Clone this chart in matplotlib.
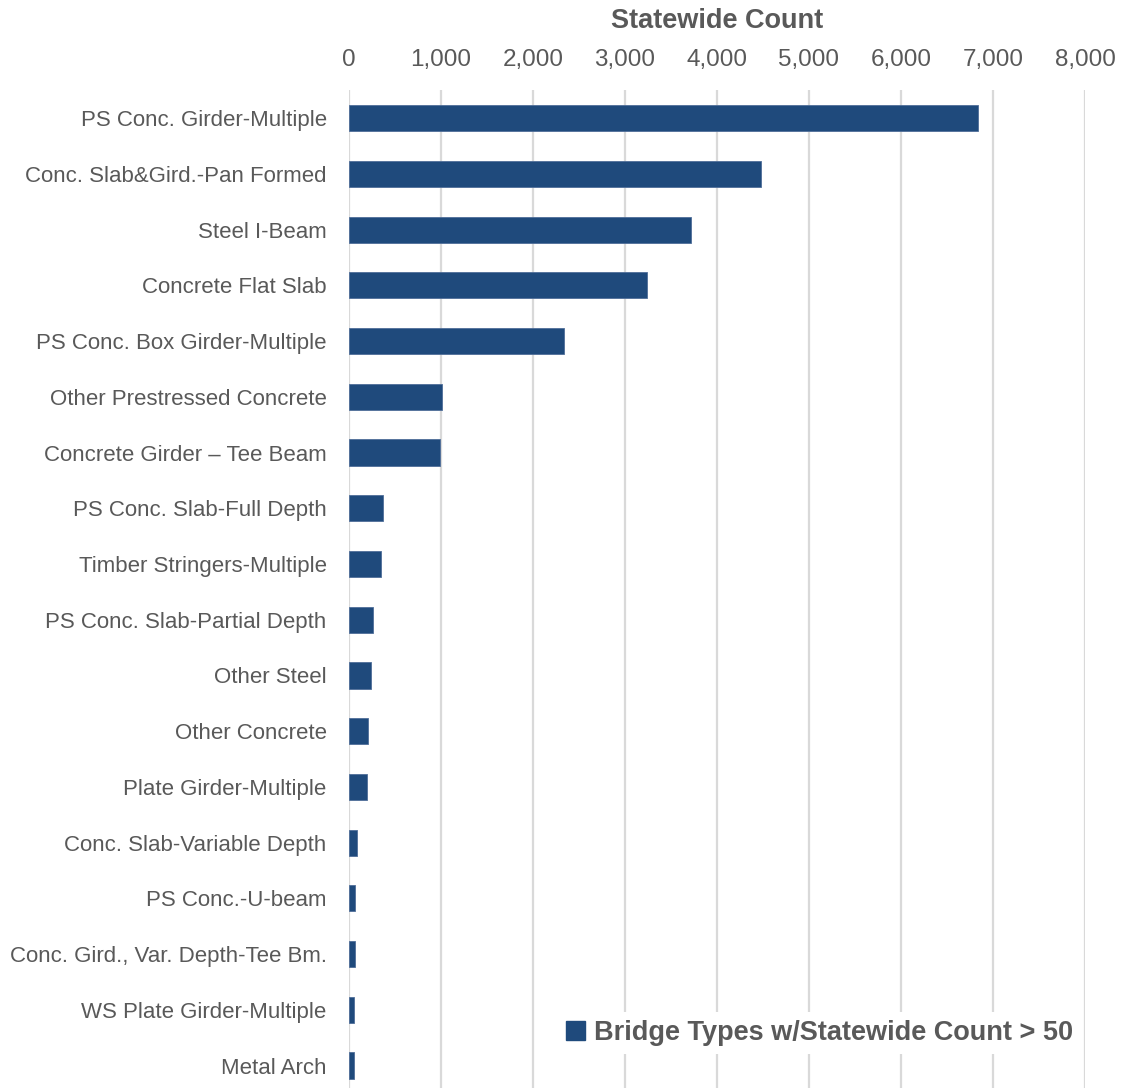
import matplotlib.pyplot as plt
from matplotlib.patches import Patch
from matplotlib.ticker import FuncFormatter

# bridge superstructure types with more than 50 bridges statewide
bridge_types = [
    "PS Conc. Girder-Multiple",
    "Conc. Slab&Gird.-Pan Formed",
    "Steel I-Beam",
    "Concrete Flat Slab",
    "PS Conc. Box Girder-Multiple",
    "Other Prestressed Concrete",
    "Concrete Girder \u2013 Tee Beam",
    "PS Conc. Slab-Full Depth",
    "Timber Stringers-Multiple",
    "PS Conc. Slab-Partial Depth",
    "Other Steel",
    "Other Concrete",
    "Plate Girder-Multiple",
    "Conc. Slab-Variable Depth",
    "PS Conc.-U-beam",
    "Conc. Gird., Var. Depth-Tee Bm.",
    "WS Plate Girder-Multiple",
    "Metal Arch",
]
counts = [6840, 4480, 3720, 3235, 2340, 1015, 988, 372, 348, 260, 236, 206,
          192, 93, 63, 62, 53, 52]
x_ticks = [0, 1000, 2000, 3000, 4000, 5000, 6000, 7000, 8000]

bar_color = "#1F4A7C"
text_gray = "#595959"

fig = plt.figure(figsize=(11.22, 10.88), dpi=100)
ax = fig.add_axes([0.311, -0.005, 0.656, 0.922])

ypos = range(len(bridge_types))
ax.barh(ypos, counts, height=0.47, color=bar_color, edgecolor="#4F6E99",
        linewidth=0.6, zorder=3)

ax.set_ylim(len(bridge_types) - 0.5, -0.5)
ax.set_yticks(list(ypos))
ax.set_yticklabels(bridge_types, fontsize=16, color=text_gray,
                   family="Liberation Sans")

ax.set_xlim(0, 8000)
ax.set_xticks(x_ticks)
ax.xaxis.set_major_formatter(FuncFormatter(lambda v, p: f"{int(v):,}"))
ax.xaxis.tick_top()
for lbl in ax.get_xticklabels():
    lbl.set_family("Liberation Sans")
    lbl.set_fontsize(17.5)
    lbl.set_color(text_gray)

ax.tick_params(axis="both", length=0)
ax.tick_params(axis="x", pad=14)
ax.tick_params(axis="y", pad=16)
ax.grid(axis="x", color="#D9D9D9", linewidth=1.6, zorder=0)
ax.set_axisbelow(True)
for s in ax.spines.values():
    s.set_visible(False)

fig.text(0.639, 0.981, "Statewide Count", ha="center", va="center",
         fontsize=19.5, fontweight="bold", color=text_gray,
         family="Liberation Sans")

handle = Patch(facecolor=bar_color, edgecolor=bar_color)
leg = ax.legend([handle], ["Bridge Types w/Statewide Count > 50"],
                loc="center right", bbox_to_anchor=(1.014, 0.06),
                frameon=True, fancybox=False, framealpha=1,
                handlelength=0.7, handleheight=0.7, handletextpad=0.35,
                borderpad=0.3,
                prop={"family": "Liberation Sans", "weight": "bold", "size": 19.5})
leg.get_frame().set_edgecolor("none")
leg.get_frame().set_facecolor("white")
for t in leg.get_texts():
    t.set_color(text_gray)

fig.savefig("out.png", dpi=100)
